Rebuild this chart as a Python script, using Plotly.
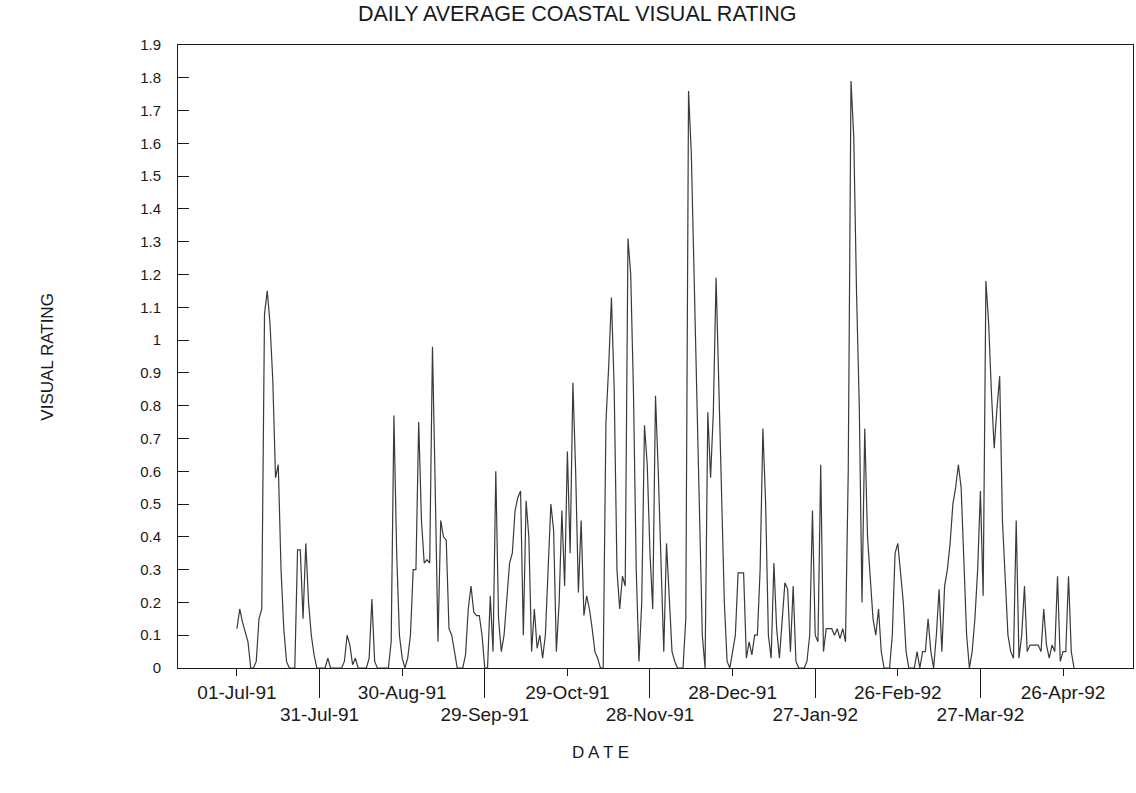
import pandas as pd
import plotly.graph_objects as go

# Daily average coastal visual rating, 01-Jul-91 onward
ratings = [
    0.12, 0.18, 0.14, 0.11, 0.08, 0.0, 0.0, 0.02, 0.15, 0.18,
    1.08, 1.15, 1.05, 0.88, 0.58, 0.62, 0.30, 0.12, 0.02, 0.0,
    0.0, 0.0, 0.36, 0.36, 0.15, 0.38, 0.20, 0.10, 0.04, 0.0,
    0.0, 0.0, 0.0, 0.03, 0.0, 0.0, 0.0, 0.0, 0.0, 0.02,
    0.10, 0.07, 0.01, 0.03, 0.0, 0.0, 0.0, 0.0, 0.03, 0.21,
    0.02, 0.0, 0.0, 0.0, 0.0, 0.0, 0.08, 0.77, 0.35, 0.10,
    0.03, 0.0, 0.03, 0.10, 0.30, 0.30, 0.75, 0.45, 0.32, 0.33,
    0.32, 0.98, 0.55, 0.08, 0.45, 0.40, 0.39, 0.12, 0.10, 0.05,
    0.0, 0.0, 0.0, 0.04, 0.18, 0.25, 0.17, 0.16, 0.16, 0.10,
    0.0, 0.0, 0.22, 0.05, 0.60, 0.15, 0.05, 0.10, 0.20, 0.32,
    0.35, 0.48, 0.52, 0.54, 0.10, 0.51, 0.40, 0.05, 0.18, 0.06,
    0.10, 0.03, 0.10, 0.30, 0.50, 0.42, 0.05, 0.20, 0.48, 0.25,
    0.66, 0.35, 0.87, 0.60, 0.23, 0.45, 0.16, 0.22, 0.18, 0.12,
    0.05, 0.03, 0.0, 0.0, 0.75, 0.92, 1.13, 0.85, 0.30, 0.18,
    0.28, 0.25, 1.31, 1.20, 0.84, 0.30, 0.02, 0.20, 0.74, 0.62,
    0.35, 0.18, 0.83, 0.60, 0.35, 0.05, 0.38, 0.22, 0.05, 0.02,
    0.0, 0.0, 0.0, 0.15, 1.76, 1.57, 1.20, 0.88, 0.50, 0.10,
    0.0, 0.78, 0.58, 0.78, 1.19, 0.85, 0.50, 0.20, 0.02, 0.0,
    0.05, 0.10, 0.29, 0.29, 0.29, 0.03, 0.08, 0.04, 0.10, 0.10,
    0.30, 0.73, 0.50, 0.10, 0.03, 0.32, 0.12, 0.03, 0.15, 0.26,
    0.24, 0.05, 0.25, 0.02, 0.0, 0.0, 0.0, 0.02, 0.10, 0.48,
    0.10, 0.08, 0.62, 0.05, 0.12, 0.12, 0.12, 0.10, 0.12, 0.09,
    0.12, 0.08, 0.60, 1.79, 1.62, 1.15, 0.80, 0.20, 0.73, 0.40,
    0.28, 0.15, 0.10, 0.18, 0.05, 0.0, 0.0, 0.0, 0.10, 0.35,
    0.38, 0.30, 0.20, 0.05, 0.0, 0.0, 0.0, 0.05, 0.0, 0.05,
    0.05, 0.15, 0.05, 0.0, 0.10, 0.24, 0.05, 0.25, 0.30, 0.38,
    0.50, 0.55, 0.62, 0.55, 0.35, 0.10, 0.0, 0.05, 0.15, 0.30,
    0.54, 0.22, 1.18, 1.05, 0.84, 0.67, 0.79, 0.89, 0.45, 0.28,
    0.10, 0.05, 0.03, 0.45, 0.03, 0.10, 0.25, 0.05, 0.07, 0.07,
    0.07, 0.07, 0.05, 0.18, 0.07, 0.03, 0.07, 0.05, 0.28, 0.02,
    0.05, 0.05, 0.28, 0.05, 0.0,
]
start_date = "1991-07-01"
dates = pd.date_range(start_date, periods=len(ratings), freq="D")

# Tick labels: two staggered rows
upper_ticks = ["1991-07-01", "1991-08-30", "1991-10-29", "1991-12-28", "1992-02-26", "1992-04-26"]
upper_labels = ["01-Jul-91", "30-Aug-91", "29-Oct-91", "28-Dec-91", "26-Feb-92", "26-Apr-92"]
lower_ticks = ["1991-07-31", "1991-09-29", "1991-11-28", "1992-01-27", "1992-03-27"]
lower_labels = ["31-Jul-91", "29-Sep-91", "28-Nov-91", "27-Jan-92", "27-Mar-92"]

x_range = ["1991-06-09 14:00", "1992-05-21 10:00"]
y_range = [0, 1.9]

FONT = "Liberation Sans, Arial, Helvetica, sans-serif"
INK = "#1a1a1a"

fig = go.Figure()
fig.add_trace(go.Scatter(
    x=dates, y=ratings, mode="lines",
    line=dict(color="#3a3a3a", width=1.2),
    showlegend=False, hoverinfo="skip",
))
# invisible trace on the second x axis so it is drawn
fig.add_trace(go.Scatter(
    x=[dates[0]], y=[None], xaxis="x2", mode="lines",
    showlegend=False, hoverinfo="skip",
))

fig.update_layout(
    width=1136, height=793,
    margin=dict(l=178, r=3, t=45, b=125),
    paper_bgcolor="white", plot_bgcolor="white",
    font=dict(family=FONT, size=17, color=INK),
    xaxis=dict(
        type="date", range=x_range,
        tickmode="array", tickvals=upper_ticks, ticktext=upper_labels,
        ticks="outside", ticklen=7, tickwidth=1, tickcolor=INK,
        showline=True, linecolor=INK, linewidth=1, mirror=True,
        showgrid=False, zeroline=False,
        tickfont=dict(family=FONT, size=19, color=INK),
    ),
    xaxis2=dict(
        type="date", range=x_range, overlaying="x", anchor="y", side="bottom",
        tickmode="array", tickvals=lower_ticks, ticktext=lower_labels,
        ticks="outside", ticklen=29, tickwidth=1, tickcolor=INK,
        showline=False, showgrid=False, zeroline=False,
        tickfont=dict(family=FONT, size=19, color=INK),
    ),
    yaxis=dict(
        range=y_range, dtick=0.1, tick0=0,
        ticks="inside", ticklen=11, tickwidth=1, tickcolor=INK,
        showline=True, linecolor=INK, linewidth=1, mirror=True,
        showgrid=False, zeroline=False, ticklabelstandoff=13,
        tickfont=dict(family=FONT, size=15, color=INK),
    ),
    annotations=[
        dict(text="DAILY AVERAGE COASTAL VISUAL RATING", xref="paper", yref="paper",
             x=0.418, y=1.05, xanchor="center", yanchor="middle", showarrow=False,
             font=dict(family=FONT, size=21.5, color=INK)),
        dict(text="VISUAL RATING", xref="paper", yref="paper",
             x=-0.137, y=0.5, xanchor="center", yanchor="middle", textangle=-90,
             showarrow=False, font=dict(family=FONT, size=17, color=INK)),
        dict(text="D A T E", xref="paper", yref="paper",
             x=0.442, y=-0.135, xanchor="center", yanchor="middle", showarrow=False,
             font=dict(family=FONT, size=17, color=INK)),
    ],
)

fig.write_html("out.html")
